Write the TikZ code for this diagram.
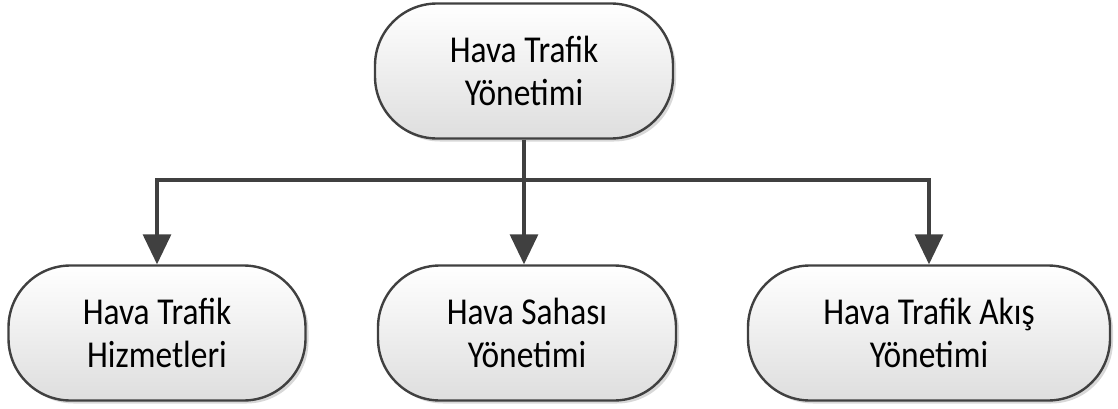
\documentclass[tikz,border=0pt]{standalone}
\usepackage{fontspec}
\setmainfont{Carlito}[FakeStretch=0.88]
\usetikzlibrary{arrows.meta,shadows}
\definecolor{edge}{HTML}{404040}
\tikzset{
  termbox/.style={draw=edge, line width=2.4pt, rounded corners=62pt,
    top color=white, bottom color=black!13, shading angle=0,
    drop shadow={shadow xshift=3pt, shadow yshift=-3pt, fill=black!30, opacity=0.5},
    minimum height=135pt, align=center,
    font=\fontsize{38}{43}\selectfont, inner sep=0pt},
  conn/.style={draw=edge, line width=3.2pt},
  arr/.style={conn, -{Triangle[length=30pt,width=28pt]}}
}
\begin{document}
\begin{tikzpicture}[x=1pt,y=1pt]
\useasboundingbox (0,0) rectangle (1118,408);
\node[termbox, minimum width=298pt] (top) at (524,337) {Hava Trafik\\Yönetimi};
\node[termbox, minimum width=297pt] (l) at (157,75) {Hava Trafik\\Hizmetleri};
\node[termbox, minimum width=298pt] (m) at (527,75) {Hava Sahası\\Yönetimi};
\node[termbox, minimum width=362pt] (r) at (929,75) {Hava Trafik Akış\\Yönetimi};
\coordinate (j) at (top.south |- 0,228);
\draw[conn] (top.south) -- (j);
\draw[arr] (j) -- (m.north -| j);
\draw[arr] (j) -| (l.north);
\draw[arr] (j) -| (r.north);
\end{tikzpicture}
\end{document}
